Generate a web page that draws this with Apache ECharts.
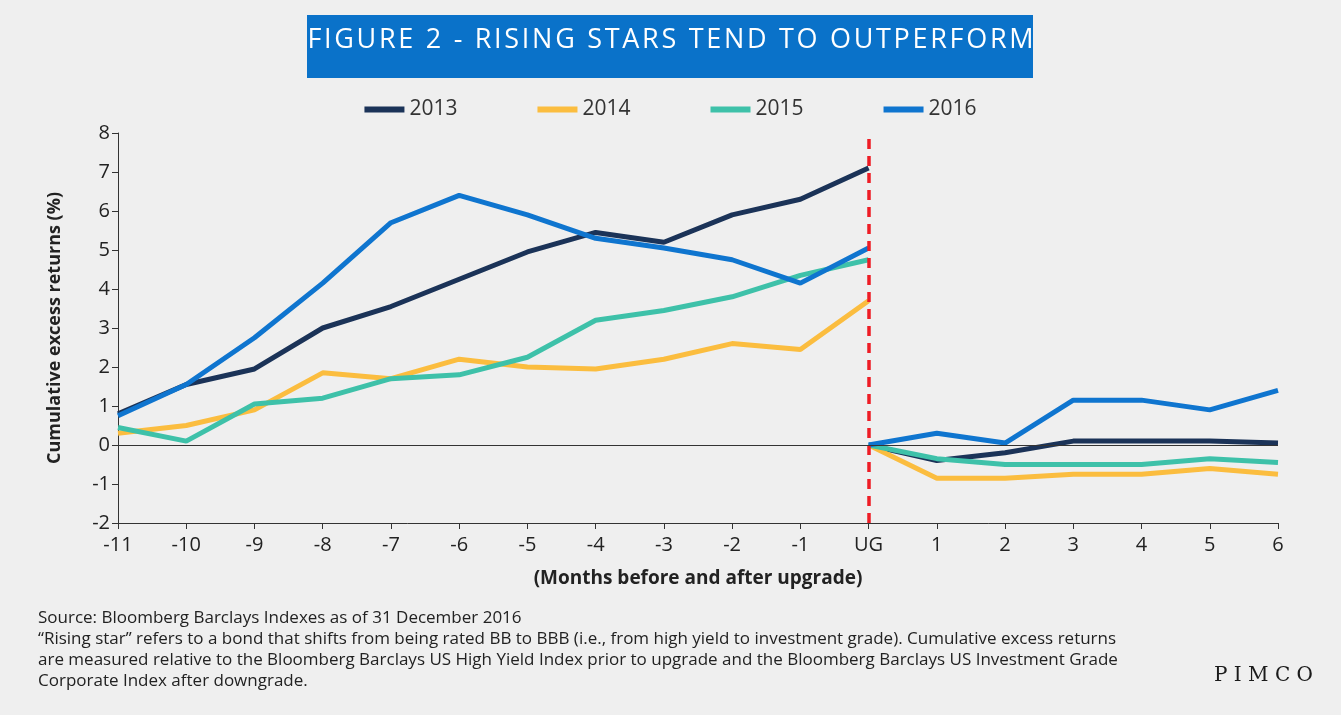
<!DOCTYPE html>
<html>
<head>
<meta charset="UTF-8">
<script src="https://cdn.jsdelivr.net/npm/echarts@6/dist/echarts.min.js"></script>
<style>html,body{margin:0;padding:0;background:#efefef;}#main{width:1341px;height:715px;}</style>
</head>
<body>
<div id="main"></div>
<script>
var months = ['-11','-10','-9','-8','-7','-6','-5','-4','-3','-2','-1','UG','1','2','3','4','5','6'];
var pre2013 = [0.8,1.55,1.95,3.0,3.55,4.25,4.95,5.45,5.2,5.9,6.3,7.1];
var post2013 = [0,-0.4,-0.2,0.1,0.1,0.1,0.05];
var pre2014 = [0.3,0.5,0.9,1.85,1.7,2.2,2.0,1.95,2.2,2.6,2.45,3.7];
var post2014 = [0,-0.85,-0.85,-0.75,-0.75,-0.6,-0.75];
var pre2015 = [0.45,0.1,1.05,1.2,1.7,1.8,2.25,3.2,3.45,3.8,4.35,4.75];
var post2015 = [0,-0.35,-0.5,-0.5,-0.5,-0.35,-0.45];
var pre2016 = [0.75,1.55,2.75,4.15,5.7,6.4,5.9,5.3,5.05,4.75,4.15,5.05];
var post2016 = [0,0.3,0.05,1.15,1.15,0.9,1.4];
var colors = {'2013':'#1b3358','2014':'#fbbd3f','2015':'#3ec1a9','2016':'#0f75cf'};

function spaced(s, sep){ return s.split('').join(sep); }
function preData(a){ return a.concat(new Array(6).fill('-')); }
function postData(a){ return new Array(11).fill('-').concat(a); }
function line(name, data){
  return {name:name, type:'line', data:data, symbol:'none',
    lineStyle:{width:5, color:colors[name]}, itemStyle:{color:colors[name]}};
}
var series = [];
['2013','2014','2015','2016'].forEach(function(y){
  series.push(line(y, preData(window['pre'+y])));
  series.push(line(y, postData(window['post'+y])));
});
series[0].markLine = {symbol:'none', silent:true, label:{show:false},
  data:[{xAxis:'UG', lineStyle:{color:'#ee1c25', type:[10,7], width:3.5}},
        {yAxis:0, lineStyle:{color:'#333', type:'solid', width:1}}]};

var chart = echarts.init(document.getElementById('main'));
chart.setOption({
  backgroundColor:'#efefef',
  animation:false,
  textStyle:{fontFamily:'Open Sans'},
  graphic:[
    {type:'rect', shape:{x:307,y:15,width:726,height:63}, style:{fill:'#0a72c9'}},
    {type:'text', left:'center', top:27, style:{text:spaced('FIGURE 2 - RISING STARS TEND TO OUTPERFORM','\u200A'), fill:'#fff', font:'27px "Open Sans"'}},
    {type:'text', left:38, top:608, style:{fill:'#222', font:'17px "Open Sans"', lineHeight:21,
      text:'Source: Bloomberg Barclays Indexes as of 31 December 2016\n\u201cRising star\u201d refers to a bond that shifts from being rated BB to BBB (i.e., from high yield to investment grade). Cumulative excess returns\nare measured relative to the Bloomberg Barclays US High Yield Index prior to upgrade and the Bloomberg Barclays US Investment Grade\nCorporate Index after downgrade.'}},
    {type:'text', right:28, top:666, style:{text:'P I M C O', fill:'#1b1b1b', font:'20px "DejaVu Serif"'}}
  ],
  legend:{top:94, left:'center', itemWidth:40, itemHeight:6, itemGap:80, icon:'rect',
    data:['2013','2014','2015','2016'], textStyle:{fontSize:21, color:'#333'}},
  grid:{left:118, right:63, top:133, bottom:192},
  xAxis:{type:'category', data:months, boundaryGap:false,
    name:'(Months before and after upgrade)', nameLocation:'middle', nameGap:46,
    nameTextStyle:{fontSize:19, fontWeight:'bold', color:'#222'},
    axisLine:{onZero:false, lineStyle:{color:'#333'}}, axisTick:{show:true, length:6, lineStyle:{color:'#333'}},
    axisLabel:{fontSize:20, color:'#222', margin:12}},
  yAxis:{type:'value', min:-2, max:8, interval:1,
    name:'Cumulative excess returns (%)', nameLocation:'middle', nameGap:54, nameRotate:90,
    nameTextStyle:{fontSize:18, fontWeight:'bold', color:'#222'},
    splitLine:{show:false}, axisLine:{show:true, lineStyle:{color:'#333'}},
    axisTick:{show:true, length:6}, axisLabel:{fontSize:20, color:'#222'}},
  series:series
});
</script>
</body>
</html>
